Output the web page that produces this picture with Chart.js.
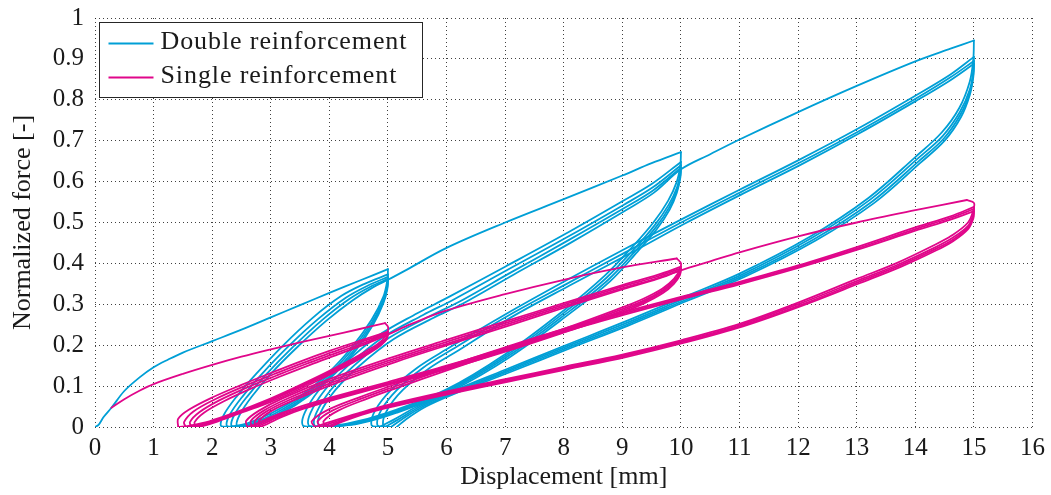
<!DOCTYPE html>
<html>
<head>
<meta charset="utf-8">
<script src="https://cdn.jsdelivr.net/npm/chart.js@4.4.1/dist/chart.umd.min.js"></script>
<style>
  html, body { margin: 0; padding: 0; background: #ffffff; }
  #wrap { width: 1051px; height: 495px; }
</style>
</head>
<body>
<div id="wrap"><canvas id="chart" width="1051" height="495"></canvas></div>
<script>
// ---- Series names and axis tick labels ----
const SERIES_NAMES = ['Double reinforcement', 'Single reinforcement'];
const X_TICK_LABELS = ['0','1','2','3','4','5','6','7','8','9','10','11','12','13','14','15','16'];
const Y_TICK_LABELS = ['0','0.1','0.2','0.3','0.4','0.5','0.6','0.7','0.8','0.9','1'];
const X_TITLE = 'Displacement [mm]';
const Y_TITLE = 'Normalized force [-]';

// ---- Double reinforcement: [displacement mm, normalized force] ----
const dblVirgin = [[0,0],[0.06,0.005],[0.15,0.025],[0.28,0.047],[0.5,0.088],[0.75,0.12],[1,0.146],[1.25,0.165],[1.5,0.182],[2,0.21],[2.5,0.238],[3,0.268],[3.5,0.298],[4,0.328],[4.5,0.357],[5,0.386]];

const dblCycles5 = [
  [[5,0.386],[4.99,0.36],[4.92,0.318],[4.72,0.262],[4.4,0.198],[4,0.135],[3.5,0.075],[3,0.033],[2.6,0.009],[2.3,0]],
  [[2.3,0],[2.15,0.003],[2.2,0.03],[2.42,0.075],[2.75,0.13],[3.2,0.198],[3.7,0.265],[4.2,0.32],[4.6,0.35],[5,0.373]],
  [[5,0.373],[4.99,0.348],[4.92,0.31],[4.73,0.257],[4.42,0.195],[4.03,0.133],[3.55,0.075],[3.07,0.033],[2.68,0.009],[2.4,0]],
  [[2.4,0],[2.25,0.003],[2.3,0.03],[2.52,0.075],[2.85,0.13],[3.3,0.197],[3.8,0.263],[4.28,0.316],[4.66,0.346],[5,0.367]],
  [[5,0.367],[4.99,0.343],[4.92,0.306],[4.74,0.254],[4.45,0.193],[4.07,0.132],[3.6,0.075],[3.13,0.033],[2.74,0.009],[2.48,0]],
  [[2.48,0],[2.33,0.003],[2.38,0.03],[2.6,0.075],[2.93,0.13],[3.38,0.196],[3.88,0.262],[4.34,0.313],[4.7,0.343],[5,0.362]],
  [[5,0.362],[4.99,0.338],[4.92,0.302],[4.75,0.251],[4.47,0.191],[4.1,0.131],[3.64,0.075],[3.18,0.033],[2.8,0.009],[2.55,0]]
];

const dblLoad10 = [[2.55,0],[2.42,0.003],[2.47,0.03],[2.68,0.075],[3,0.13],[3.45,0.195],[3.95,0.26],[4.4,0.31],[4.75,0.342],[5,0.36],[5.3,0.383],[6,0.438],[7,0.5],[8,0.557],[9,0.615],[9.5,0.645],[10,0.672]];

const dblCycles10 = [
  [[10,0.672],[9.99,0.64],[9.93,0.6],[9.78,0.553],[9.53,0.5],[9.2,0.445],[8.7,0.37],[8,0.285],[7,0.178],[6,0.092],[5,0.035],[4.3,0.008],[3.75,0]],
  [[3.75,0],[3.55,0.003],[3.58,0.035],[3.82,0.09],[4.22,0.15],[4.82,0.222],[5.5,0.278],[6,0.315],[7,0.392],[8,0.47],[9,0.552],[9.5,0.594],[10,0.648]],
  [[10,0.648],[9.99,0.622],[9.93,0.585],[9.79,0.543],[9.55,0.493],[9.22,0.438],[8.73,0.365],[8.03,0.282],[7.03,0.176],[6.03,0.091],[5.05,0.035],[4.38,0.008],[3.85,0]],
  [[3.85,0],[3.65,0.003],[3.68,0.035],[3.92,0.09],[4.32,0.15],[4.92,0.22],[5.6,0.274],[6.1,0.31],[7.05,0.385],[8.03,0.462],[9.02,0.543],[9.52,0.586],[10,0.64]],
  [[10,0.64],[9.99,0.615],[9.93,0.578],[9.8,0.537],[9.57,0.488],[9.24,0.433],[8.76,0.36],[8.06,0.279],[7.06,0.174],[6.06,0.09],[5.1,0.035],[4.45,0.008],[3.95,0]],
  [[3.95,0],[3.75,0.003],[3.78,0.035],[4.02,0.09],[4.42,0.15],[5.02,0.218],[5.7,0.27],[6.2,0.305],[7.1,0.378],[8.06,0.455],[9.04,0.536],[9.53,0.579],[10,0.634]],
  [[10,0.634],[9.99,0.61],[9.93,0.573],[9.81,0.532],[9.59,0.484],[9.26,0.429],[8.79,0.356],[8.09,0.276],[7.09,0.172],[6.09,0.089],[5.15,0.035],[4.5,0.008],[4.02,0]]
];

const dblLoad15 = [[4.02,0],[3.82,0.003],[3.85,0.035],[4.1,0.09],[4.5,0.148],[5.1,0.215],[5.78,0.267],[6.28,0.302],[7.15,0.373],[8.1,0.449],[9.06,0.53],[9.54,0.573],[10,0.63],[10.5,0.667],[11,0.703],[12,0.77],[13,0.834],[14,0.894],[14.6,0.925],[15,0.945]];

const dblCycles15 = [
  [[15,0.945],[14.99,0.9],[14.93,0.845],[14.75,0.78],[14.45,0.72],[14,0.66],[13.2,0.56],[12.2,0.465],[11,0.375],[10,0.315],[9,0.255],[8,0.198],[7,0.14],[6,0.082],[5.5,0.05],[5.1,0.018],[4.85,0]],
  [[4.85,0],[4.72,0.004],[4.78,0.04],[5.05,0.09],[5.5,0.145],[6,0.19],[7,0.275],[8,0.355],[9,0.432],[10,0.507],[11,0.58],[12,0.652],[13,0.728],[14,0.81],[14.6,0.862],[15,0.905]],
  [[15,0.905],[14.99,0.87],[14.93,0.825],[14.76,0.77],[14.47,0.712],[14.03,0.655],[13.23,0.556],[12.23,0.462],[11.03,0.372],[10.03,0.312],[9.03,0.252],[8.03,0.196],[7.03,0.138],[6.03,0.081],[5.55,0.05],[5.17,0.018],[4.95,0]],
  [[4.95,0],[4.82,0.004],[4.88,0.04],[5.15,0.09],[5.6,0.145],[6.1,0.19],[7.05,0.272],[8.05,0.35],[9.05,0.427],[10.03,0.502],[11.03,0.575],[12.02,0.646],[13.02,0.722],[14.01,0.803],[14.6,0.855],[15,0.895]],
  [[15,0.895],[14.99,0.862],[14.93,0.818],[14.77,0.764],[14.49,0.706],[14.06,0.65],[13.27,0.552],[12.27,0.459],[11.07,0.37],[10.07,0.31],[9.07,0.25],[8.07,0.194],[7.07,0.137],[6.07,0.08],[5.6,0.05],[5.23,0.018],[5.05,0]],
  [[5.05,0],[4.92,0.004],[4.98,0.04],[5.25,0.09],[5.7,0.143],[6.2,0.187],[7.1,0.268],[8.1,0.346],[9.1,0.422],[10.06,0.497],[11.05,0.57],[12.04,0.641],[13.03,0.717],[14.02,0.798],[14.6,0.848],[15,0.888]],
  [[15,0.888],[14.99,0.856],[14.93,0.812],[14.78,0.758],[14.5,0.7],[14.08,0.645],[13.3,0.548],[12.3,0.456],[11.1,0.368],[10.1,0.308],[9.1,0.248],[8.1,0.192],[7.1,0.135],[6.1,0.079],[5.65,0.05],[5.3,0.018],[5.15,0]]
];

// ---- Single reinforcement: [displacement mm, normalized force] ----
const sglVirgin = [[0.28,0.047],[0.5,0.068],[0.75,0.088],[1,0.105],[1.5,0.13],[2,0.152],[2.5,0.172],[3,0.19],[3.5,0.207],[4,0.223],[4.5,0.239],[4.95,0.254]];

const sglCycles5 = [
  [[4.95,0.254],[5,0.245],[4.99,0.232],[4.9,0.212],[4.68,0.19],[4.35,0.163],[3.9,0.13],[3.4,0.096],[2.9,0.064],[2.4,0.036],[1.95,0.014],[1.6,0.003],[1.42,0]],
  [[1.42,0],[1.42,0.02],[1.6,0.042],[2,0.072],[2.5,0.103],[3,0.132],[3.5,0.16],[4,0.186],[4.5,0.21],[5,0.233]],
  [[5,0.233],[4.98,0.22],[4.88,0.205],[4.68,0.186],[4.36,0.16],[3.92,0.128],[3.43,0.095],[2.93,0.063],[2.44,0.036],[2,0.014],[1.7,0.003],[1.55,0]],
  [[1.55,0],[1.52,0.012],[1.68,0.038],[2.05,0.068],[2.55,0.1],[3.05,0.129],[3.55,0.157],[4.05,0.183],[4.52,0.207],[5,0.23]],
  [[5,0.23],[4.98,0.217],[4.88,0.202],[4.69,0.184],[4.38,0.158],[3.95,0.127],[3.46,0.094],[2.97,0.063],[2.48,0.036],[2.05,0.014],[1.78,0.003],[1.65,0]],
  [[1.65,0],[1.62,0.012],[1.78,0.036],[2.12,0.065],[2.6,0.097],[3.1,0.126],[3.6,0.154],[4.1,0.18],[4.56,0.204],[5,0.228]],
  [[5,0.228],[4.98,0.215],[4.88,0.2],[4.7,0.182],[4.4,0.157],[3.98,0.126],[3.5,0.093],[3.01,0.062],[2.52,0.036],[2.1,0.014],[1.85,0.003],[1.72,0]]
];

const sglLoad10 = [[1.72,0],[1.7,0.012],[1.86,0.035],[2.2,0.063],[2.68,0.095],[3.17,0.124],[3.67,0.152],[4.16,0.178],[4.6,0.202],[5,0.226],[5.4,0.252],[6,0.285],[7,0.325],[8,0.36],[9,0.39],[9.93,0.412]];

const sglCycles10 = [
  [[9.93,0.412],[10,0.4],[9.98,0.385],[9.88,0.362],[9.68,0.338],[9.35,0.313],[8.9,0.287],[8,0.24],[7,0.193],[6,0.15],[5,0.11],[4,0.071],[3.4,0.045],[3,0.024],[2.75,0.008],[2.6,0]],
  [[2.6,0],[2.58,0.015],[2.8,0.04],[3.2,0.07],[4,0.117],[5,0.167],[6,0.213],[7,0.258],[8,0.303],[9,0.347],[9.6,0.372],[10,0.392]],
  [[10,0.392],[9.98,0.378],[9.88,0.357],[9.68,0.334],[9.36,0.309],[8.92,0.284],[8.02,0.238],[7.02,0.191],[6.02,0.148],[5.03,0.108],[4.05,0.07],[3.45,0.044],[3.06,0.024],[2.82,0.008],[2.68,0]],
  [[2.68,0],[2.66,0.015],[2.88,0.04],[3.28,0.069],[4.06,0.115],[5.05,0.164],[6.04,0.21],[7.03,0.255],[8.02,0.3],[9.01,0.344],[9.6,0.368],[10,0.388]],
  [[10,0.388],[9.98,0.374],[9.88,0.354],[9.69,0.331],[9.37,0.306],[8.94,0.281],[8.04,0.236],[7.04,0.189],[6.04,0.146],[5.06,0.107],[4.09,0.069],[3.5,0.044],[3.12,0.024],[2.88,0.008],[2.75,0]],
  [[2.75,0],[2.73,0.015],[2.95,0.04],[3.35,0.068],[4.12,0.113],[5.1,0.162],[6.08,0.207],[7.06,0.252],[8.04,0.297],[9.02,0.34],[9.6,0.364],[10,0.384]],
  [[10,0.384],[9.98,0.37],[9.88,0.35],[9.7,0.328],[9.38,0.303],[8.96,0.278],[8.06,0.234],[7.06,0.187],[6.06,0.144],[5.08,0.106],[4.12,0.068],[3.55,0.044],[3.18,0.024],[2.95,0.008],[2.82,0]]
];

const sglLoad15 = [[2.82,0],[2.8,0.015],[3.02,0.04],[3.42,0.067],[4.18,0.111],[5.15,0.16],[6.12,0.205],[7.09,0.249],[8.06,0.294],[9.04,0.338],[9.6,0.362],[10,0.383],[10.5,0.405],[11,0.427],[12,0.466],[13,0.5],[14,0.53],[14.88,0.555]];

const sglCycles15 = [
  [[14.88,0.555],[15,0.548],[14.99,0.53],[14.9,0.5],[14.62,0.468],[14.3,0.443],[13.7,0.402],[13,0.362],[12,0.304],[11,0.252],[10,0.212],[9,0.177],[8,0.147],[7,0.117],[6,0.087],[5,0.054],[4.5,0.034],[4,0.012],[3.75,0]],
  [[3.75,0],[3.7,0.014],[3.95,0.04],[4.5,0.072],[5,0.098],[6,0.148],[7,0.195],[8,0.24],[9,0.28],[10,0.318],[11,0.355],[12,0.395],[13,0.44],[14,0.488],[14.6,0.515],[15,0.538]],
  [[15,0.538],[14.99,0.52],[14.9,0.492],[14.63,0.462],[14.32,0.438],[13.72,0.398],[13.02,0.358],[12.02,0.301],[11.02,0.25],[10.02,0.21],[9.02,0.175],[8.02,0.145],[7.02,0.115],[6.02,0.085],[5.04,0.053],[4.55,0.034],[4.08,0.012],[3.85,0]],
  [[3.85,0],[3.8,0.014],[4.05,0.04],[4.58,0.071],[5.06,0.096],[6.04,0.145],[7.03,0.192],[8.02,0.237],[9.01,0.277],[10,0.315],[11,0.352],[12,0.392],[13,0.436],[14,0.484],[14.6,0.511],[15,0.533]],
  [[15,0.533],[14.99,0.515],[14.9,0.488],[14.64,0.458],[14.34,0.435],[13.74,0.395],[13.04,0.355],[12.04,0.298],[11.04,0.248],[10.04,0.208],[9.04,0.173],[8.04,0.143],[7.04,0.113],[6.04,0.083],[5.08,0.052],[4.6,0.034],[4.15,0.012],[3.95,0]],
  [[3.95,0],[3.9,0.014],[4.15,0.04],[4.66,0.07],[5.12,0.094],[6.08,0.142],[7.06,0.189],[8.04,0.234],[9.02,0.274],[10,0.312],[11,0.349],[12,0.389],[13,0.433],[14,0.48],[14.6,0.507],[15,0.528]],
  [[15,0.528],[14.99,0.51],[14.9,0.484],[14.65,0.455],[14.36,0.432],[13.76,0.392],[13.06,0.352],[12.06,0.296],[11.06,0.246],[10.06,0.206],[9.06,0.171],[8.06,0.141],[7.06,0.111],[6.06,0.081],[5.12,0.051],[4.65,0.034],[4.2,0.012],[4.02,0]]
];

// ---- Styling ----
const COLOR_DOUBLE = '#009fd6';
const COLOR_SINGLE = '#e0068a';
const FONT_FAMILY = "'Liberation Serif', 'Times New Roman', serif";
const TEXT_COLOR = '#1a1a1a';
const LINE_WIDTH = 1.8;

// Each loading/unloading branch becomes its own line so reversal points stay sharp.
function branchDatasets(branches, label, color, order) {
  return branches.map((pts, i) => ({
    label: i === 0 ? label : label + ' #' + i,
    data: pts,
    showLine: true,
    borderColor: color,
    backgroundColor: color,
    borderWidth: LINE_WIDTH,
    borderJoinStyle: 'round',
    borderCapStyle: 'round',
    pointRadius: 0,
    pointHoverRadius: 0,
    tension: 0.35,
    fill: false,
    order: order
  }));
}

const doubleBranches = [dblVirgin, ...dblCycles5, dblLoad10, ...dblCycles10, dblLoad15, ...dblCycles15];
const singleBranches = [sglVirgin, ...sglCycles5, sglLoad10, ...sglCycles10, sglLoad15, ...sglCycles15];

const datasets = [
  ...branchDatasets(doubleBranches, SERIES_NAMES[0], COLOR_DOUBLE, 1),
  ...branchDatasets(singleBranches, SERIES_NAMES[1], COLOR_SINGLE, 0)
];

// Boxed legend in the upper-left corner of the plot area
const insetLegend = {
  id: 'insetLegend',
  afterDatasetsDraw(chart) {
    const {ctx, chartArea} = chart;
    const x0 = Math.round(chartArea.left) + 4.5;
    const y0 = Math.round(chartArea.top) + 4.5;
    const w = 323, h = 75;
    ctx.save();
    ctx.fillStyle = '#ffffff';
    ctx.fillRect(x0, y0, w, h);
    ctx.strokeStyle = '#262626';
    ctx.lineWidth = 1;
    ctx.strokeRect(x0, y0, w, h);
    const rows = [
      {text: SERIES_NAMES[0], color: COLOR_DOUBLE, y: y0 + 21},
      {text: SERIES_NAMES[1], color: COLOR_SINGLE, y: y0 + 55}
    ];
    ctx.font = '26px ' + FONT_FAMILY;
    ctx.textBaseline = 'middle';
    ctx.textAlign = 'left';
    if ('letterSpacing' in ctx) ctx.letterSpacing = '0.9px';
    rows.forEach(r => {
      ctx.strokeStyle = r.color;
      ctx.lineWidth = LINE_WIDTH;
      ctx.beginPath();
      ctx.moveTo(x0 + 9, r.y);
      ctx.lineTo(x0 + 54, r.y);
      ctx.stroke();
      ctx.fillStyle = TEXT_COLOR;
      ctx.fillText(r.text, x0 + 61, r.y - 1);
    });
    ctx.restore();
  }
};

const gridStyle = {
  color: 'rgba(30,30,30,0.85)',
  lineWidth: 1,
  drawTicks: false
};

new Chart(document.getElementById('chart'), {
  type: 'scatter',
  data: { datasets },
  options: {
    responsive: false,
    animation: false,
    events: [],
    layout: { padding: { left: 0, top: 18, right: 18, bottom: 0 } },
    plugins: {
      legend: { display: false },
      tooltip: { enabled: false }
    },
    scales: {
      x: {
        type: 'linear',
        min: 0,
        max: 16,
        border: { display: false, dash: [1, 3] },
        grid: gridStyle,
        ticks: {
          stepSize: 1,
          autoSkip: false,
          maxRotation: 0,
          padding: 6,
          color: TEXT_COLOR,
          font: { family: FONT_FAMILY, size: 25 },
          callback: (v) => X_TICK_LABELS[Math.round(v)]
        },
        title: {
          display: true,
          text: X_TITLE,
          color: TEXT_COLOR,
          font: { family: FONT_FAMILY, size: 26 },
          padding: { top: 0, bottom: 2 }
        },
        afterFit(scale) { scale.height = 68; }
      },
      y: {
        type: 'linear',
        min: 0,
        max: 1,
        border: { display: false, dash: [1, 3] },
        grid: gridStyle,
        ticks: {
          stepSize: 0.1,
          padding: 11,
          color: TEXT_COLOR,
          font: { family: FONT_FAMILY, size: 25 },
          callback: (v) => Y_TICK_LABELS[Math.round(v * 10)]
        },
        title: {
          display: true,
          text: Y_TITLE,
          color: TEXT_COLOR,
          font: { family: FONT_FAMILY, size: 26 },
          padding: { top: 8, bottom: 0 }
        },
        afterFit(scale) {
          scale.width = 95;
          scale.paddingTop = 0;
          scale.paddingBottom = 0;
        }
      }
    }
  },
  plugins: [insetLegend]
});
</script>
</body>
</html>
